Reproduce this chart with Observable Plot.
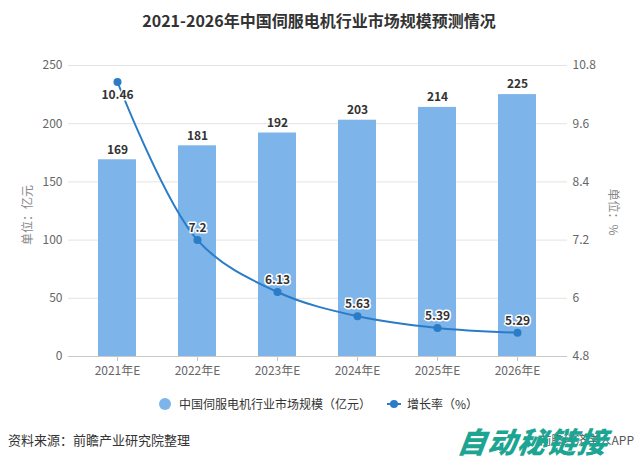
<!DOCTYPE html>
<html><head><meta charset="utf-8">
<script src="https://cdn.jsdelivr.net/npm/d3@7"></script>
<script src="https://cdn.jsdelivr.net/npm/@observablehq/plot@0.6"></script>
<style>
body{margin:0;background:#fff;font-family:"Noto Sans CJK SC","Noto Sans",sans-serif;}
#wrap{position:relative;width:638px;height:462px;overflow:hidden;background:#fff;}
.abs{position:absolute;white-space:nowrap;line-height:1;}
</style></head><body>
<div id="wrap">
  <div id="chart" class="abs" style="left:0;top:0"></div>
  <div class="abs" style="left:0;width:638px;top:12px;text-align:center;font-size:16px;font-weight:bold;color:#333;">2021-2026年中国伺服电机行业市场规模预测情况</div>
  <div class="abs" style="left:27px;top:215px;font-size:12px;color:#888;transform:translate(-50%,-50%) rotate(-90deg);">单位：亿元</div>
  <div class="abs" style="left:614px;top:212px;font-size:12px;color:#888;transform:translate(-50%,-50%) rotate(90deg);">单位：%</div>
  <div class="abs" id="legend" style="left:0;top:398px;font-size:12px;color:#333;"></div>
  <div class="abs" style="left:8px;top:433px;font-size:13px;color:#333;">资料来源：前瞻产业研究院整理</div>
  <div class="abs" style="right:4px;top:434px;font-size:12px;color:#555;">前瞻经济学人APP</div>
  <div class="abs" style="left:458px;top:426px;font-size:29px;font-weight:900;font-style:italic;color:#1ba592;letter-spacing:1px;transform:skewX(-8deg);">自动秘链接</div>
</div>
<script>
const years = ["2021年E","2022年E","2023年E","2024年E","2025年E","2026年E"];
const marketSize = [169, 181, 192, 203, 214, 225];
const growthRate = [10.46, 7.2, 6.13, 5.63, 5.39, 5.29];
const leftTicks = [0, 50, 100, 150, 200, 250];
const rightTicks = [4.8, 6, 7.2, 8.4, 9.6, 10.8];
const rightTickLabels = ["4.8", "6", "7.2", "8.4", "9.6", "10.8"];
const rateLabels = ["10.46", "7.2", "6.13", "5.63", "5.39", "5.29"];
const seriesNames = ["中国伺服电机行业市场规模（亿元）", "增长率（%）"];

const barColor = "#7db4ea";
const lineColor = "#2a7cc7";

// map the right axis (rate) onto the left axis domain
const toY = d3.scaleLinear([4.8, 10.8], [0, 250]);
const data = years.map((y, i) => ({
  year: y, size: marketSize[i], rate: growthRate[i], rateY: toY(growthRate[i]),
  sizeLabel: String(marketSize[i]), rateLabel: rateLabels[i]
}));
const rightMap = new Map(rightTicks.map((r, i) => [toY(r), rightTickLabels[i]]));

const chart = Plot.plot({
  width: 638, height: 462,
  marginTop: 65, marginBottom: 106, marginLeft: 68, marginRight: 71,
  style: {fontFamily: '"Noto Sans CJK SC","Noto Sans",sans-serif', background: "transparent"},
  x: {domain: years, paddingInner: 0.52, paddingOuter: 0.37, label: null},
  y: {domain: [0, 250], label: null},
  marks: [
    Plot.gridY(leftTicks.slice(1), {stroke: "#e3e3e3", strokeOpacity: 1}),
    Plot.axisY(leftTicks, {anchor: "left", tickSize: 0, tickPadding: 6, fontSize: 12, fill: "#666", label: null}),
    Plot.axisY(rightTicks.map(toY), {anchor: "right", tickSize: 0, tickPadding: 5, fontSize: 12, fill: "#666", label: null, tickFormat: d => rightMap.get(d)}),
    Plot.barY(data, {x: "year", y: "size", fill: barColor}),
    Plot.ruleY([0], {stroke: "#c8c8c8"}),
    Plot.axisX({tickSize: 5, tickPadding: 5, stroke: "#c8c8c8", fill: "#666", fontSize: 12, label: null}),
    Plot.line(data, {x: "year", y: "rateY", stroke: lineColor, strokeWidth: 2, curve: "catmull-rom"}),
    Plot.dot(data, {x: "year", y: "rateY", fill: lineColor, r: 4}),
    Plot.text(data, {x: "year", y: "size", text: "sizeLabel", dy: -10, fontSize: 12, fontWeight: "bold", fill: "#333"}),
    Plot.text(data.slice(0, 1), {x: "year", y: "rateY", text: "rateLabel", dy: 13, fontSize: 12, fontWeight: "bold", fill: "#333", stroke: "white", strokeWidth: 3}),
    Plot.text(data.slice(1), {x: "year", y: "rateY", text: "rateLabel", dy: -12, fontSize: 12, fontWeight: "bold", fill: "#333", stroke: "white", strokeWidth: 3})
  ]
});
document.getElementById("chart").appendChild(chart);

// legend
const lg = d3.select("#legend");
const item1 = lg.append("div").attr("class", "abs").style("left", "159px").style("top", "0px").style("display", "flex").style("align-items", "center");
item1.append("span").style("display", "inline-block").style("width", "12px").style("height", "12px").style("border-radius", "50%").style("background", barColor).style("margin-right", "8px");
item1.append("span").text(seriesNames[0]);
const item2 = lg.append("div").attr("class", "abs").style("left", "387px").style("top", "0px").style("display", "flex").style("align-items", "center");
const mk = item2.append("span").style("position", "relative").style("display", "inline-block").style("width", "14px").style("height", "12px").style("margin-right", "6px");
mk.append("span").style("position", "absolute").style("left", "0").style("top", "5px").style("width", "14px").style("height", "2px").style("background", lineColor);
mk.append("span").style("position", "absolute").style("left", "3px").style("top", "2px").style("width", "8px").style("height", "8px").style("border-radius", "50%").style("background", lineColor);
item2.append("span").text(seriesNames[1]);
</script>
</body></html>
